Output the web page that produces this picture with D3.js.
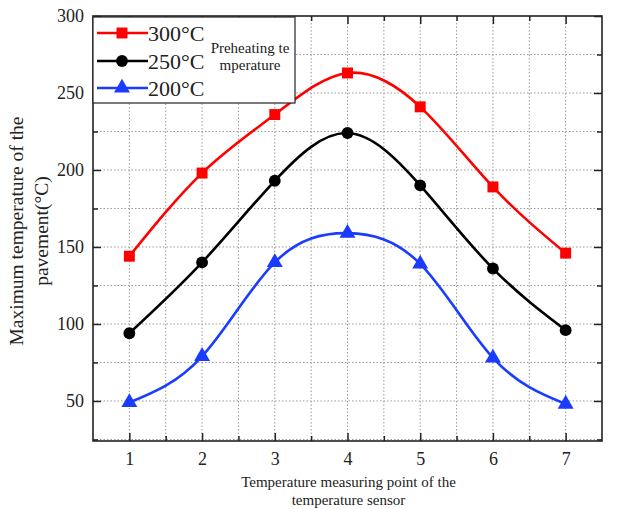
<!DOCTYPE html>
<html>
<head>
<meta charset="utf-8">
<script src="https://cdn.jsdelivr.net/npm/d3@7"></script>
<style>
  html, body { margin: 0; padding: 0; background: #fff; }
  svg text { font-family: "Liberation Serif", "Times New Roman", serif; fill: #222; }
</style>
</head>
<body>
<div id="chart"></div>
<script>
// Measuring points along the sensor line
const points = [1, 2, 3, 4, 5, 6, 7];
// Maximum pavement temperature (°C) for each preheating temperature
const temp300 = [144, 198, 236, 263, 241, 189, 146];
const temp250 = [94, 140, 193, 224, 190, 136, 96];
const temp200 = [49, 79, 140, 159, 139, 78, 48];
const seriesNames = ["300\u00B0C", "250\u00B0C", "200\u00B0C"];
const xTicks = [1, 2, 3, 4, 5, 6, 7];
const yTicks = [50, 100, 150, 200, 250, 300];

const W = 620, H = 509;
const plotL = 93, plotR = 602, plotT = 16, plotB = 441;

const svg = d3.select("#chart").append("svg").attr("width", W).attr("height", H);

const x = d3.scaleLinear().domain([0.5, 7.5]).range([plotL, plotR]);
const y = d3.scaleLinear().domain([24, 300]).range([plotB, plotT]);

// Dotted grid on major and minor positions
const gridX = d3.range(1, 7.51, 0.5).filter(v => v < 7.5);
const gridY = d3.range(25, 300, 25);
const grid = svg.append("g").attr("stroke", "#9a9a9a").attr("stroke-width", 1).attr("stroke-dasharray", "1.5,2");
grid.selectAll("line.gx").data(gridX).join("line").attr("class", "gx")
  .attr("x1", d => x(d)).attr("x2", d => x(d)).attr("y1", plotT).attr("y2", plotB);
grid.selectAll("line.gy").data(gridY).join("line").attr("class", "gy")
  .attr("x1", plotL).attr("x2", plotR).attr("y1", d => y(d)).attr("y2", d => y(d));

// Axes with inward ticks on all four sides
const minorX = d3.range(1.5, 7.5, 1);
const minorY = d3.range(25, 300, 50);

const xb = svg.append("g").attr("transform", `translate(0,${plotB})`);
xb.call(d3.axisBottom(x).tickValues(xTicks).tickSize(-8).tickPadding(11).tickFormat(d3.format("d")));
xb.append("g").call(d3.axisBottom(x).tickValues(minorX).tickSize(-5).tickFormat(""));
const xt = svg.append("g").attr("transform", `translate(0,${plotT})`);
xt.call(d3.axisTop(x).tickValues(xTicks).tickSize(-8).tickFormat(""));
xt.append("g").call(d3.axisTop(x).tickValues(minorX).tickSize(-5).tickFormat(""));
const yl = svg.append("g").attr("transform", `translate(${plotL},0)`);
yl.call(d3.axisLeft(y).tickValues(yTicks).tickSize(-8).tickPadding(9).tickFormat(d3.format("d")));
yl.append("g").call(d3.axisLeft(y).tickValues(minorY).tickSize(-5).tickFormat(""));
const yr = svg.append("g").attr("transform", `translate(${plotR},0)`);
yr.call(d3.axisRight(y).tickValues(yTicks).tickSize(-8).tickFormat(""));
yr.append("g").call(d3.axisRight(y).tickValues(minorY).tickSize(-5).tickFormat(""));

svg.selectAll(".domain").remove();
svg.selectAll(".tick line").attr("stroke", "#222").attr("stroke-width", 1.5);
svg.selectAll(".tick text").attr("font-size", 18).attr("font-family", "Liberation Serif").attr("fill", "#222");

// Frame
svg.append("rect").attr("x", plotL).attr("y", plotT).attr("width", plotR - plotL).attr("height", plotB - plotT)
  .attr("fill", "none").attr("stroke", "#222").attr("stroke-width", 1.6);

// Series
const series = [
  { name: seriesNames[0], values: temp300, color: "#ff0000", shape: d3.symbolSquare, size: 120 },
  { name: seriesNames[1], values: temp250, color: "#000000", shape: d3.symbolCircle, size: 110 },
  { name: seriesNames[2], values: temp200, color: "#1a3cff", shape: d3.symbolTriangle, size: 110 }
];

const line = d3.line().x(d => x(d[0])).y(d => y(d[1])).curve(d3.curveNatural);

series.forEach(s => {
  const pts = points.map((p, i) => [p, s.values[i]]);
  svg.append("path").datum(pts).attr("d", line)
    .attr("fill", "none").attr("stroke", s.color).attr("stroke-width", 2.6);
  svg.append("g").selectAll("path").data(pts).join("path")
    .attr("transform", d => `translate(${x(d[0])},${y(d[1])})`)
    .attr("d", d3.symbol().type(s.shape).size(s.size))
    .attr("fill", s.color);
});

// Legend
const lg = svg.append("g");
lg.append("rect").attr("x", 93).attr("y", 17).attr("width", 202).attr("height", 86)
  .attr("fill", "#fff").attr("stroke", "#222").attr("stroke-width", 1.2);
const legendY = [33, 61, 88];
series.forEach((s, i) => {
  const ly = legendY[i];
  lg.append("line").attr("x1", 97).attr("x2", 148).attr("y1", ly).attr("y2", ly)
    .attr("stroke", s.color).attr("stroke-width", 2.6);
  lg.append("path").attr("transform", `translate(122,${ly})`)
    .attr("d", d3.symbol().type(s.shape).size(s.size)).attr("fill", s.color);
  lg.append("text").attr("x", 148).attr("y", ly + 8).attr("font-size", 22).text(s.name);
});
lg.append("text").attr("x", 250).attr("y", 53).attr("text-anchor", "middle").attr("font-size", 15).text("Preheating te");
lg.append("text").attr("x", 250).attr("y", 70).attr("text-anchor", "middle").attr("font-size", 15).text("mperature");

// Axis titles
svg.append("text").attr("x", (plotL + plotR) / 2 + 1).attr("y", 487).attr("text-anchor", "middle")
  .attr("font-size", 15).text("Temperature measuring point of the");
svg.append("text").attr("x", (plotL + plotR) / 2 + 1).attr("y", 505).attr("text-anchor", "middle")
  .attr("font-size", 15).text("temperature sensor");
const yt = svg.append("g").attr("transform", "translate(0,231) rotate(-90)");
yt.append("text").attr("x", 0).attr("y", 23).attr("text-anchor", "middle").attr("font-size", 19.5)
  .text("Maximum temperature of the");
yt.append("text").attr("x", 0).attr("y", 48).attr("text-anchor", "middle").attr("font-size", 19.5)
  .text("pavement(\u00B0C)");
</script>
</body>
</html>
